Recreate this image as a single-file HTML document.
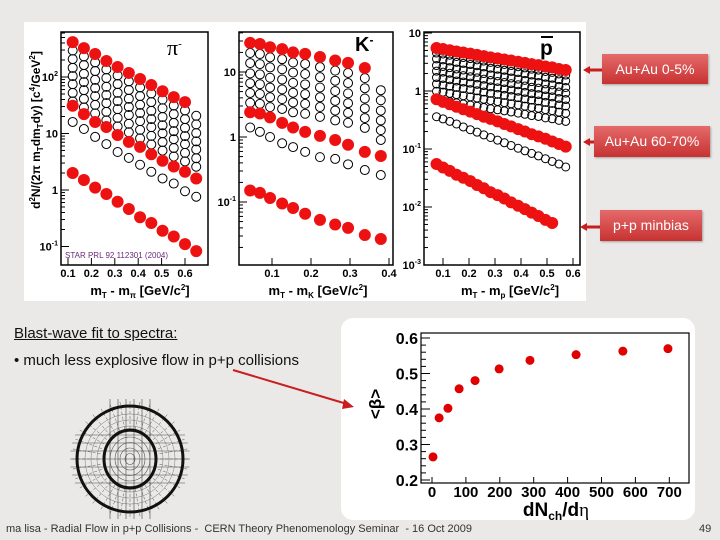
<!DOCTYPE html>
<html><head><meta charset="utf-8"><style>
body{margin:0;width:720px;height:540px;overflow:hidden;background:#ebe9e7;font-family:"Liberation Sans",sans-serif;}
#root{position:relative;width:720px;height:540px;}
.box{position:absolute;color:#fff;font-size:14px;text-align:center;background:linear-gradient(#e46a6a,#c83232);box-shadow:1px 1px 2px rgba(0,0,0,.3);}
</style></head><body><div id="root">
<svg id="top" width="720" height="540" style="position:absolute;left:0;top:0"></svg>
<div class="box" style="left:602px;top:54px;width:106px;height:30px;line-height:30px">Au+Au 0-5%</div>
<div class="box" style="left:594px;top:126px;width:116px;height:31px;line-height:31px">Au+Au 60-70%</div>
<div class="box" style="left:600px;top:210px;width:102px;height:31px;line-height:31px">p+p minbias</div>
<div style="position:absolute;left:14px;top:325px;font-size:15px;text-decoration:underline;color:#111">Blast-wave fit to spectra:</div>
<div style="position:absolute;left:14px;top:352px;font-size:15px;color:#111">• much less explosive flow in p+p collisions</div>
<div style="position:absolute;left:6px;top:523px;font-size:11px;color:#333">ma lisa - Radial Flow in p+p Collisions -&nbsp; CERN Theory Phenomenology Seminar &nbsp;- 16 Oct 2009</div>
<div style="position:absolute;left:699px;top:523px;font-size:11px;color:#333">49</div>
</div>
<script>
// ---- spectra data ----
const piX=[0.12,0.168,0.216,0.264,0.312,0.36,0.408,0.456,0.504,0.552,0.6,0.648];
const piCentral=[415,325,255,192,150,118,92,72,56,44,36];
const piOpenBase=[415,325,255,192,150,118,92,72,56,44,36,29];
const piScales=[0.71,0.5,0.35,0.25,0.18,0.126,0.089];
const piPeripheral=[31,22,16,13,9.4,7.1,5.8,4.3,3.3,2.6,2.1,1.6];
const piOpenLow=[16,12,8.7,6.5,4.7,3.7,2.8,2.1,1.6,1.3,0.95,0.76];
const piPP=[2.0,1.5,1.1,0.85,0.62,0.46,0.33,0.26,0.19,0.15,0.11,0.083];

const kX=[0.044,0.069,0.095,0.126,0.154,0.185,0.223,0.262,0.295,0.338,0.379];
const kCentral=[28,27,24,22.5,20,19,17,15,13.8,11.5];
const kOpenBase=[28,27,24,22.5,20,19,17,15,13.8,11.5,7.5];
const kScales=[0.7,0.49,0.34,0.24,0.17,0.12];
const kPeripheral=[2.4,2.3,2.0,1.65,1.4,1.2,1.04,0.9,0.76,0.59,0.51];
const kOpenLow=[1.4,1.2,1.0,0.8,0.7,0.59,0.49,0.46,0.38,0.31,0.26];
const kPP=[0.15,0.138,0.115,0.095,0.081,0.066,0.053,0.045,0.04,0.031,0.027];

const pX=[0.075,0.1,0.126,0.152,0.178,0.205,0.231,0.257,0.283,0.31,0.336,0.362,0.389,0.415,0.441,0.467,0.494,0.52,0.546,0.572];
const pCentral=[5.5,5.3,5.05,4.8,4.6,4.4,4.2,4.0,3.8,3.65,3.5,3.35,3.2,3.05,2.9,2.8,2.65,2.55,2.4,2.3];
const pScales=[0.82,0.65,0.5,0.4,0.31,0.24,0.18,0.13];
const pPeripheral=[0.72,0.65,0.59,0.535,0.485,0.44,0.4,0.36,0.33,0.3,0.27,0.245,0.22,0.2,0.18,0.165,0.15,0.135,0.122,0.11];
const pOpenLow=[0.36,0.33,0.3,0.27,0.24,0.215,0.195,0.175,0.158,0.142,0.128,0.115,0.103,0.093,0.084,0.076,0.068,0.061,0.055,0.049];
const pPP=[0.055,0.048,0.042,0.036,0.032,0.028,0.024,0.021,0.018,0.016,0.014,0.012,0.0105,0.0092,0.008,0.007,0.006,0.0053];

// ---- beta vs multiplicity ----
const betaX=[3,21,47,80,127,198,289,425,563,696];
const betaY=[0.265,0.375,0.402,0.457,0.48,0.513,0.537,0.553,0.563,0.57];
const betaXTicks=[0,100,200,300,400,500,600,700];
const betaYTicks=[0.2,0.3,0.4,0.5,0.6];

const NS='http://www.w3.org/2000/svg';
const svg=document.getElementById('top');
function mk(tag,attrs,parent){const e=document.createElementNS(NS,tag);for(const k in attrs)e.setAttribute(k,attrs[k]);(parent||svg).appendChild(e);return e;}
function txt(s,x,y,attrs,parent){const t=mk('text',Object.assign({x:x,y:y},attrs),parent);t.innerHTML=s;return t;}

const bg=mk('rect',{x:24,y:22,width:562,height:279,fill:'#fff'});



function panel(cfg){
  const g=mk('g',{});
  
  
  const xs=v=>cfg.x0px+(v-cfg.x0)*cfg.xpx;
  const ys=v=>cfg.y0px-(Math.log10(v)-cfg.y0)*cfg.dec;
  const fr=mk('rect',{x:cfg.L,y:32,width:cfg.R-cfg.L,height:233,fill:'none',stroke:'#000','stroke-width':1.5},g);
  
  
  for(let d=cfg.dmin;d<=cfg.dmax;d++){
    const y=ys(Math.pow(10,d));
    if(y>=31&&y<=266){mk('line',{x1:cfg.L,x2:cfg.L+8,y1:y,y2:y,stroke:'#000'},g);
      const lab=d===0?'1':d===1?'10':d===2?'10<tspan font-size="7" dy="-5">2</tspan>':'10<tspan font-size="7" dy="-5">'+d+'</tspan>';
      const t=txt(lab,cfg.L-3,y+4,{'font-size':11,'font-weight':'bold','text-anchor':'end'},g);
      
      }
    for(let m=2;m<10;m++){const yy=ys(m*Math.pow(10,d));if(yy>32&&yy<265)mk('line',{x1:cfg.L,x2:cfg.L+4,y1:yy,y2:yy,stroke:'#000'},g);}
  }
  cfg.xticks.forEach(v=>{const x=xs(v);mk('line',{x1:x,x2:x,y1:265,y2:258,stroke:'#000'},g);
    const t=txt(String(v),x,277,{'font-size':11,'font-weight':'bold','text-anchor':'middle'},g);
    
    });
  cfg.scales.forEach(s=>{cfg.base.forEach((v,i)=>{const c=mk('circle',{cx:xs(cfg.X[i]),cy:ys(v*s),r:cfg.ro,fill:'none',stroke:'#000','stroke-width':1},g);
    
    });});
  cfg.openLow.forEach((v,i)=>{const c=mk('circle',{cx:xs(cfg.X[i]),cy:ys(v),r:cfg.ro,fill:'none',stroke:'#000','stroke-width':1},g);
    
    });
  [cfg.central,cfg.peripheral,cfg.pp].forEach(ser=>ser.forEach((v,i)=>{const c=mk('circle',{cx:xs(cfg.X[i]),cy:ys(v),r:cfg.rr,fill:'#ee1111'},g);
    
    }));
  return g;
}
panel({name:'pion-panel',L:61,R:208,x0:0.1,x0px:68,xpx:234,y0:2,y0px:77,dec:56.5,dmin:-1,dmax:2,xticks:[0.1,0.2,0.3,0.4,0.5,0.6],
  X:piX,central:piCentral,base:piOpenBase,scales:piScales,peripheral:piPeripheral,openLow:piOpenLow,pp:piPP,ro:4.5,rr:6});
panel({name:'kaon-panel',L:239,R:393,x0:0.1,x0px:272,xpx:390,y0:1,y0px:72,dec:65,dmin:-2,dmax:1,xticks:[0.1,0.2,0.3,0.4],
  X:kX,central:kCentral,base:kOpenBase,scales:kScales,peripheral:kPeripheral,openLow:kOpenLow,pp:kPP,ro:4.5,rr:6});
panel({name:'antiproton-panel',L:424,R:580,x0:0.1,x0px:443,xpx:260,y0:1,y0px:33,dec:58,dmin:-3,dmax:1,xticks:[0.1,0.2,0.3,0.4,0.5,0.6],
  X:pX,central:pCentral,base:pCentral,scales:pScales,peripheral:pPeripheral,openLow:pOpenLow,pp:pPP,ro:4,rr:6});

let t;
t=txt('d<tspan font-size="8" dy="-5">2</tspan><tspan dy="5">N/(2π m</tspan><tspan font-size="8" dy="3">T</tspan><tspan dy="-3">dm</tspan><tspan font-size="8" dy="3">T</tspan><tspan dy="-3">dy) [c</tspan><tspan font-size="8" dy="-5">4</tspan><tspan dy="5">/GeV</tspan><tspan font-size="8" dy="-5">2</tspan><tspan dy="5">]</tspan>',0,0,{'font-size':12,'font-weight':'bold','text-anchor':'middle',transform:'translate(40,130) rotate(-90)'});


const xt=[['m<tspan font-size="8" dy="3">T</tspan><tspan dy="-3"> - m</tspan><tspan font-size="8" dy="3">π</tspan><tspan dy="-3"> [GeV/c</tspan><tspan font-size="8" dy="-5">2</tspan><tspan dy="5">]</tspan>',140],
 ['m<tspan font-size="8" dy="3">T</tspan><tspan dy="-3"> - m</tspan><tspan font-size="8" dy="3">K</tspan><tspan dy="-3"> [GeV/c</tspan><tspan font-size="8" dy="-5">2</tspan><tspan dy="5">]</tspan>',318],
 ['m<tspan font-size="8" dy="3">T</tspan><tspan dy="-3"> - m</tspan><tspan font-size="8" dy="3">p</tspan><tspan dy="-3"> [GeV/c</tspan><tspan font-size="8" dy="-5">2</tspan><tspan dy="5">]</tspan>',510]];
xt.forEach(a=>{const e=txt(a[0],a[1],295,{'font-size':13,'font-weight':'bold','text-anchor':'middle'});
  
  });
t=txt('π<tspan font-size="11" dy="-8">-</tspan>',167,55,{'font-size':22,'font-family':'Liberation Serif,serif'});

t=txt('K<tspan font-size="12" dy="-7">-</tspan>',355,51,{'font-size':20,'font-weight':'bold'});

t=txt('p',540,55,{'font-size':21,'font-weight':'bold'});

mk('line',{x1:541,x2:553,y1:37,y2:37,stroke:'#000','stroke-width':2});
t=txt('STAR PRL 92 112301 (2004)',65,258,{'font-size':8,fill:'#6a2a7a'});


[[602,70,583],[594,142,583],[600,227,580]].forEach(a=>{
  const l=mk('line',{x1:a[0],x2:a[2]+6,y1:a[1],y2:a[1],stroke:'#c81e1e','stroke-width':3});
  
  mk('polygon',{points:`${a[2]},${a[1]} ${a[2]+7},${a[1]-4} ${a[2]+7},${a[1]+4}`,fill:'#c81e1e'});
});

// blast-wave diagram
const bw=mk('g',{});


const cx=130,cy=459;
for(let r=5;r<=25;r+=5)mk('ellipse',{cx:cx,cy:cy,rx:r,ry:r*1.1,fill:'none',stroke:'#555','stroke-width':0.6},bw);
for(let r=33;r<=50;r+=6)mk('circle',{cx:cx,cy:cy,r:r,fill:'none',stroke:'#777','stroke-width':0.5},bw);
for(let y=-24;y<=24;y+=8){const w=Math.sqrt(Math.max(0,60*60-y*y));mk('line',{x1:cx-w,x2:cx+w,y1:cy+y,y2:cy+y,stroke:'#444','stroke-width':0.6},bw);}
for(let x=-20;x<=20;x+=8){mk('line',{x1:cx+x,x2:cx+x,y1:cy-60,y2:cy+60,stroke:'#444','stroke-width':0.6},bw);}
for(let a=0;a<360;a+=10){const r1=30,r2=58,ra=a*Math.PI/180;mk('line',{x1:cx+r1*Math.cos(ra),y1:cy+r1*Math.sin(ra),x2:cx+r2*Math.cos(ra),y2:cy+r2*Math.sin(ra),stroke:'#555','stroke-width':0.5,'stroke-dasharray':'3,2'},bw);}
mk('circle',{cx:cx,cy:cy,r:53,fill:'none',stroke:'#111','stroke-width':3},bw);
mk('ellipse',{cx:cx,cy:cy,rx:26,ry:29,fill:'none',stroke:'#111','stroke-width':3},bw);

// beta chart
const bc=mk('g',{});


const pn=mk('rect',{x:341,y:318,width:354,height:202,rx:12,fill:'#fff'},bc);

const bx=v=>432+v*0.339, by=v=>480-(v-0.2)*355;
mk('rect',{x:421,y:333,width:268,height:150,fill:'none',stroke:'#000','stroke-width':1.2},bc);
betaYTicks.forEach(v=>{mk('line',{x1:421,x2:430,y1:by(v),y2:by(v),stroke:'#000'},bc);
  const e=txt(v.toFixed(1),418,by(v)+6,{'font-size':16,'font-weight':'bold','text-anchor':'end'},bc);
  });
for(let v=0.22;v<0.6;v+=0.02){mk('line',{x1:421,x2:426,y1:by(v),y2:by(v),stroke:'#000'},bc);}
betaXTicks.forEach(v=>{mk('line',{x1:bx(v),x2:bx(v),y1:483,y2:477,stroke:'#000'},bc);
  const e=txt(String(v),bx(v),497,{'font-size':15,'font-weight':'bold','text-anchor':'middle'},bc);
  });
betaX.forEach((v,i)=>{const c=mk('circle',{cx:bx(v),cy:by(betaY[i]),r:4.5,fill:'#e00000'},bc);
  });
t=txt('dN<tspan font-size="12" dy="4">ch</tspan><tspan dy="-4">/d</tspan><tspan font-family="Liberation Serif,serif" font-weight="normal">η</tspan>',556,516,{'font-size':19,'font-weight':'bold','text-anchor':'middle'},bc);

t=txt('&lt;β&gt;',0,0,{'font-size':17,'font-weight':'bold','text-anchor':'middle',transform:'translate(381,404) rotate(-90)'},bc);


// arrow to beta plot (drawn on top)
const ar=mk('line',{x1:233,y1:370,x2:347,y2:404,stroke:'#c81e1e','stroke-width':2});

mk('polygon',{points:'354,407 344,399 342,409',fill:'#c81e1e'});
</script></body></html>
